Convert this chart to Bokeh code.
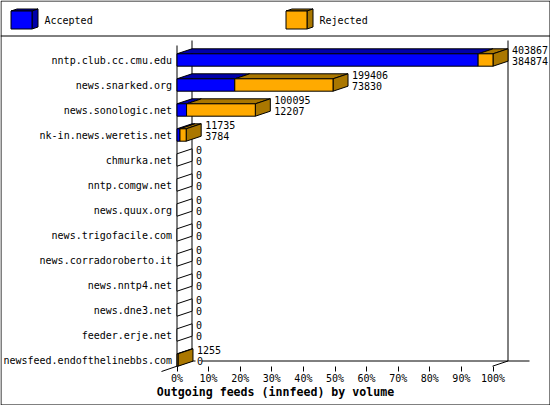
from bokeh.plotting import figure
from bokeh.models import Range1d, FixedTicker, PrintfTickFormatter, Span, ColumnDataSource
from bokeh.core.properties import value
from bokeh.embed import file_html
from bokeh.resources import INLINE

hosts = ["nntp.club.cc.cmu.edu", "news.snarked.org", "news.sonologic.net", "nk-in.news.weretis.net",
         "chmurka.net", "nntp.comgw.net", "news.quux.org", "news.trigofacile.com",
         "news.corradoroberto.it", "news.nntp4.net", "news.dne3.net", "feeder.erje.net",
         "newsfeed.endofthelinebbs.com"]
upper_values = [403867, 199406, 100095, 11735, 0, 0, 0, 0, 0, 0, 0, 0, 1255]
lower_values = [384874, 73830, 12207, 3784, 0, 0, 0, 0, 0, 0, 0, 0, 0]
legend_names = ["Accepted", "Rejected"]
title_text = "Outgoing feeds (innfeed) by volume"

W, H = 550, 405
X0, PX_PER_PCT = 176.5, 3.16
Y0, PX_PER_ROW = 59.5, 25.0
def X(px): return (px - X0) / PX_PER_PCT
def Y(px): return (px - Y0) / PX_PER_ROW
DX = 15 / PX_PER_PCT
DY = 5 / PX_PER_ROW
HALF = 6.2 / PX_PER_ROW

BLUE, BLUE_D, ORANGE, ORANGE_D = "#0000ff", "#0000aa", "#ffaa00", "#aa7700"
FONT = "DejaVu Sans Mono"

p = figure(width=W, height=H, output_backend="svg", toolbar_location=None, min_border=0,
           x_range=Range1d(X(0), X(W)), y_range=Range1d(Y(H), Y(0)))
p.styles = {"position": "absolute", "left": "0", "top": "0"}
p.outline_line_color = None
p.grid.visible = False

xa = p.xaxis[0]
xa.fixed_location = Y(365.7)
xa.bounds = (0, 100)
xa.ticker = FixedTicker(ticks=list(range(0, 101, 10)))
xa.formatter = PrintfTickFormatter(format="%d%%")
xa.axis_line_color = None
xa.major_tick_out, xa.major_tick_in = 5, 0
xa.minor_tick_line_color = None
xa.major_tick_line_color = "black"
xa.major_label_standoff = 2
xa.major_label_text_font = FONT
xa.major_label_text_font_size = "10px"
xa.major_label_text_color = "black"

ya = p.yaxis[0]
ya.fixed_location = 0
ya.ticker = FixedTicker(ticks=list(range(len(hosts))))
ya.major_label_overrides = {i: h for i, h in enumerate(hosts)}
ya.axis_line_color = None
ya.major_tick_line_color = None
ya.minor_tick_line_color = None
ya.major_tick_out, ya.major_tick_in = 0, 0
ya.major_label_standoff = 5
ya.major_label_text_font = FONT
ya.major_label_text_font_size = "10px"
ya.major_label_text_color = "black"

# page frame and legend separator
p.multi_line(xs=[[X(0.5), X(549.5), X(549.5), X(0.5), X(0.5)]],
             ys=[[Y(0.5), Y(0.5), Y(404.5), Y(404.5), Y(0.5)]], line_color="black", line_width=1)
p.add_layout(Span(location=Y(35.5), dimension="width", line_color="black", line_width=1))

# walls and floor
wx = [[X(176.5), X(176.5)], [X(191.5), X(191.5)], [X(507.5), X(507.5)],
      [X(161), X(191.5)], [X(492), X(507.5)], [X(191.5), X(195)], [X(201.5), X(529)]]
wy = [[Y(45), Y(366)], [Y(40), Y(360.5)], [Y(40), Y(360.5)],
      [Y(371), Y(360.5)], [Y(365.7), Y(360.5)], [Y(360.5), Y(360.5)], [Y(360.5), Y(360.5)]]
p.multi_line(xs=wx, ys=wy, line_color="black", line_width=1)

def faces(x1, x2, r):
    front = ([x1, x2, x2, x1], [r - HALF, r - HALF, r + HALF, r + HALF])
    top = ([x1, x2, x2 + DX, x1 + DX], [r - HALF, r - HALF, r - HALF - DY, r - HALF - DY])
    side = ([x2, x2 + DX, x2 + DX, x2], [r - HALF, r - HALF - DY, r + HALF - DY, r + HALF])
    return front, top, side

top_max = max(upper_values)
for r, (u, l) in enumerate(zip(upper_values, lower_values)):
    pu, pl = u / top_max * 100, l / top_max * 100
    if u == 0:
        _, _, s = faces(0, 0, r)
        p.patch(s[0], s[1], fill_color="white", line_color="black", line_width=1)
        continue
    if l > 0:
        f, t, s = faces(0, pl, r)
        p.patch(t[0], t[1], fill_color=BLUE_D, line_color="black")
        p.patch(f[0], f[1], fill_color=BLUE, line_color="black")
    f, t, s = faces(pl, pu, r)
    p.patch(t[0], t[1], fill_color=ORANGE_D, line_color="black")
    p.patch(s[0], s[1], fill_color=ORANGE_D, line_color="black")
    p.patch(f[0], f[1], fill_color=ORANGE, line_color="black")

# value labels
rows = list(range(len(hosts)))
lx = [u / top_max * 100 + DX + 4 / PX_PER_PCT for u in upper_values]
for vals, off in ((upper_values, -9.7), (lower_values, 1.3)):
    src = ColumnDataSource(dict(x=lx, y=[r + off / PX_PER_ROW for r in rows], t=[str(v) for v in vals]))
    p.text("x", "y", "t", source=src, text_font=value(FONT), text_font_size="10px",
           text_color="black", text_baseline="middle", text_align="left")

# legend
for name, fx, c, d in ((legend_names[0], 10.5, BLUE, BLUE_D), (legend_names[1], 285.5, ORANGE, ORANGE_D)):
    a, b, t, bt = X(fx), X(fx + 21), Y(10.5), Y(28.5)
    ex, ey = 6 / PX_PER_PCT, 2 / PX_PER_ROW
    p.patch([a, b, b + ex, a + ex], [t, t, t - ey, t - ey], fill_color=d, line_color="black")
    p.patch([b, b + ex, b + ex, b], [t, t - ey, bt - ey, bt], fill_color=d, line_color="black")
    p.patch([a, b, b, a], [t, t, bt, bt], fill_color=c, line_color="black")
    p.text([X(fx + 33.5)], [Y(20)], [name], text_font=value(FONT), text_font_size="10px",
           text_color="black", text_baseline="middle", text_align="left")

p.text([X(275)], [Y(391.5)], [title_text], text_font=value(FONT), text_font_style="bold",
       text_font_size="11.6px", text_color="black", text_baseline="middle", text_align="center")

open("out.html", "w").write(file_html(p, INLINE))
